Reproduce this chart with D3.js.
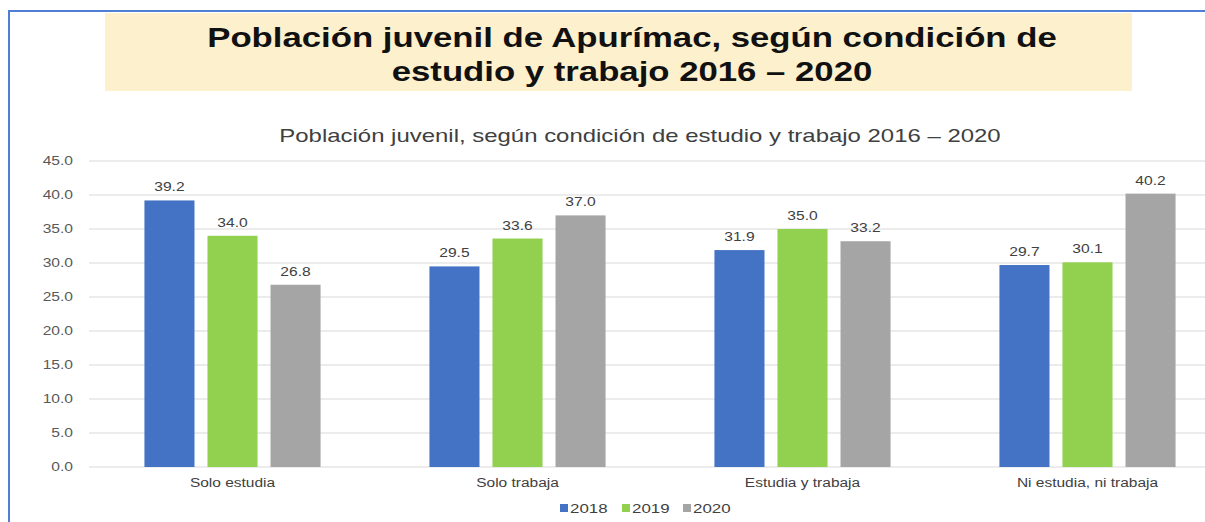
<!DOCTYPE html>
<html>
<head>
<meta charset="utf-8">
<script src="https://cdn.jsdelivr.net/npm/d3@7/dist/d3.min.js"></script>
<style>
html,body{margin:0;padding:0;background:#fff;}
svg{display:block;font-family:"Liberation Sans",Arial,sans-serif;}
</style>
</head>
<body>
<svg id="chart" width="1205" height="522"></svg>
<script>
const categories = ["Solo estudia", "Solo trabaja", "Estudia y trabaja", "Ni estudia, ni trabaja"];
const years = ["2018", "2019", "2020"];
const values2018 = [39.2, 29.5, 31.9, 29.7];
const values2019 = [34.0, 33.6, 35.0, 30.1];
const values2020 = [26.8, 37.0, 33.2, 40.2];
const yTicks = [0, 5, 10, 15, 20, 25, 30, 35, 40, 45];
const colors = ["#4472c4", "#92d050", "#a5a5a5"];
const titleLines = ["Población juvenil de Apurímac, según condición de", "estudio y trabajo 2016 – 2020"];
const subtitle = "Población juvenil, según condición de estudio y trabajo 2016 – 2020";

const series = [values2018, values2019, values2020];
const svg = d3.select("#chart");

function stretch(sel, k) {
  sel.each(function () {
    const w = this.getComputedTextLength();
    this.setAttribute("textLength", w * k);
    this.setAttribute("lengthAdjust", "spacingAndGlyphs");
  });
}

// frame
svg.append("path").attr("d", "M9,522 V11 H1205").attr("fill", "none")
  .attr("stroke", "#4f7fd4").attr("stroke-width", 2);

// title box
svg.append("rect").attr("x", 105).attr("y", 13).attr("width", 1027).attr("height", 78).attr("fill", "#fdf0cd");
const tl = svg.append("g").selectAll("text").data(titleLines).join("text")
  .attr("x", 632).attr("y", (d, i) => 47 + i * 34).attr("text-anchor", "middle")
  .attr("font-weight", "bold").attr("font-size", 28).attr("fill", "#111")
  .text(d => d);
stretch(tl, 1.24);

const st = svg.append("text").attr("x", 640).attr("y", 142).attr("text-anchor", "middle")
  .attr("font-size", 19).attr("fill", "#404040").text(subtitle);
stretch(st, 1.26);

const y = d3.scaleLinear().domain([0, 45]).range([467, 161]);
const x0 = d3.scaleBand().domain(categories).range([90, 1230]).paddingInner(0.382).paddingOuter(0.191);
const x1 = d3.scaleBand().domain(years).range([0, x0.bandwidth()]).paddingInner(0.206);

// grid
svg.append("g").selectAll("line").data(yTicks).join("line")
  .attr("x1", 89).attr("x2", 1230).attr("y1", d => y(d)).attr("y2", d => y(d))
  .attr("stroke", "#d9d9d9").attr("stroke-width", 1);

// y axis labels
const yAxis = d3.axisLeft(y).tickValues(yTicks).tickFormat(d3.format(".1f")).tickSize(0).tickPadding(0);
const ya = svg.append("g").attr("transform", "translate(73,0)").call(yAxis);
ya.select(".domain").remove();
ya.selectAll("text").attr("font-size", 12).attr("fill", "#595959").attr("font-family", "Liberation Sans, Arial, sans-serif");
stretch(ya.selectAll("text"), 1.3);

// bars
const groups = svg.append("g").selectAll("g").data(categories).join("g")
  .attr("transform", d => `translate(${x0(d)},0)`);
groups.selectAll("rect").data((c, ci) => years.map((yr, si) => ({yr, si, v: series[si][ci]}))).join("rect")
  .attr("x", d => x1(d.yr)).attr("width", x1.bandwidth())
  .attr("y", d => y(d.v)).attr("height", d => y(0) - y(d.v))
  .attr("fill", d => colors[d.si]);
const vl = groups.selectAll("text").data((c, ci) => years.map((yr, si) => ({yr, si, v: series[si][ci]}))).join("text")
  .attr("x", d => x1(d.yr) + x1.bandwidth() / 2).attr("y", d => y(d.v) - 9)
  .attr("text-anchor", "middle").attr("font-size", 12).attr("fill", "#404040")
  .text(d => d3.format(".1f")(d.v));
stretch(vl, 1.3);

// x axis labels
const xAxis = d3.axisBottom(x0).tickSize(0).tickPadding(0);
const xa = svg.append("g").attr("transform", "translate(0,478)").call(xAxis);
xa.select(".domain").remove();
xa.selectAll("text").attr("font-size", 12).attr("fill", "#404040").attr("font-family", "Liberation Sans, Arial, sans-serif");
stretch(xa.selectAll("text"), 1.29);

// legend
const legX = [560, 622, 683];
const leg = svg.append("g").selectAll("g").data(years).join("g")
  .attr("transform", (d, i) => `translate(${legX[i]},508)`);
leg.append("rect").attr("x", 0).attr("y", -4).attr("width", 8).attr("height", 8).attr("fill", (d, i) => colors[i]);
const lt = leg.append("text").attr("x", 10).attr("y", 5).attr("font-size", 13).attr("fill", "#404040").text(d => d);
stretch(lt, 1.3);
</script>
</body>
</html>
